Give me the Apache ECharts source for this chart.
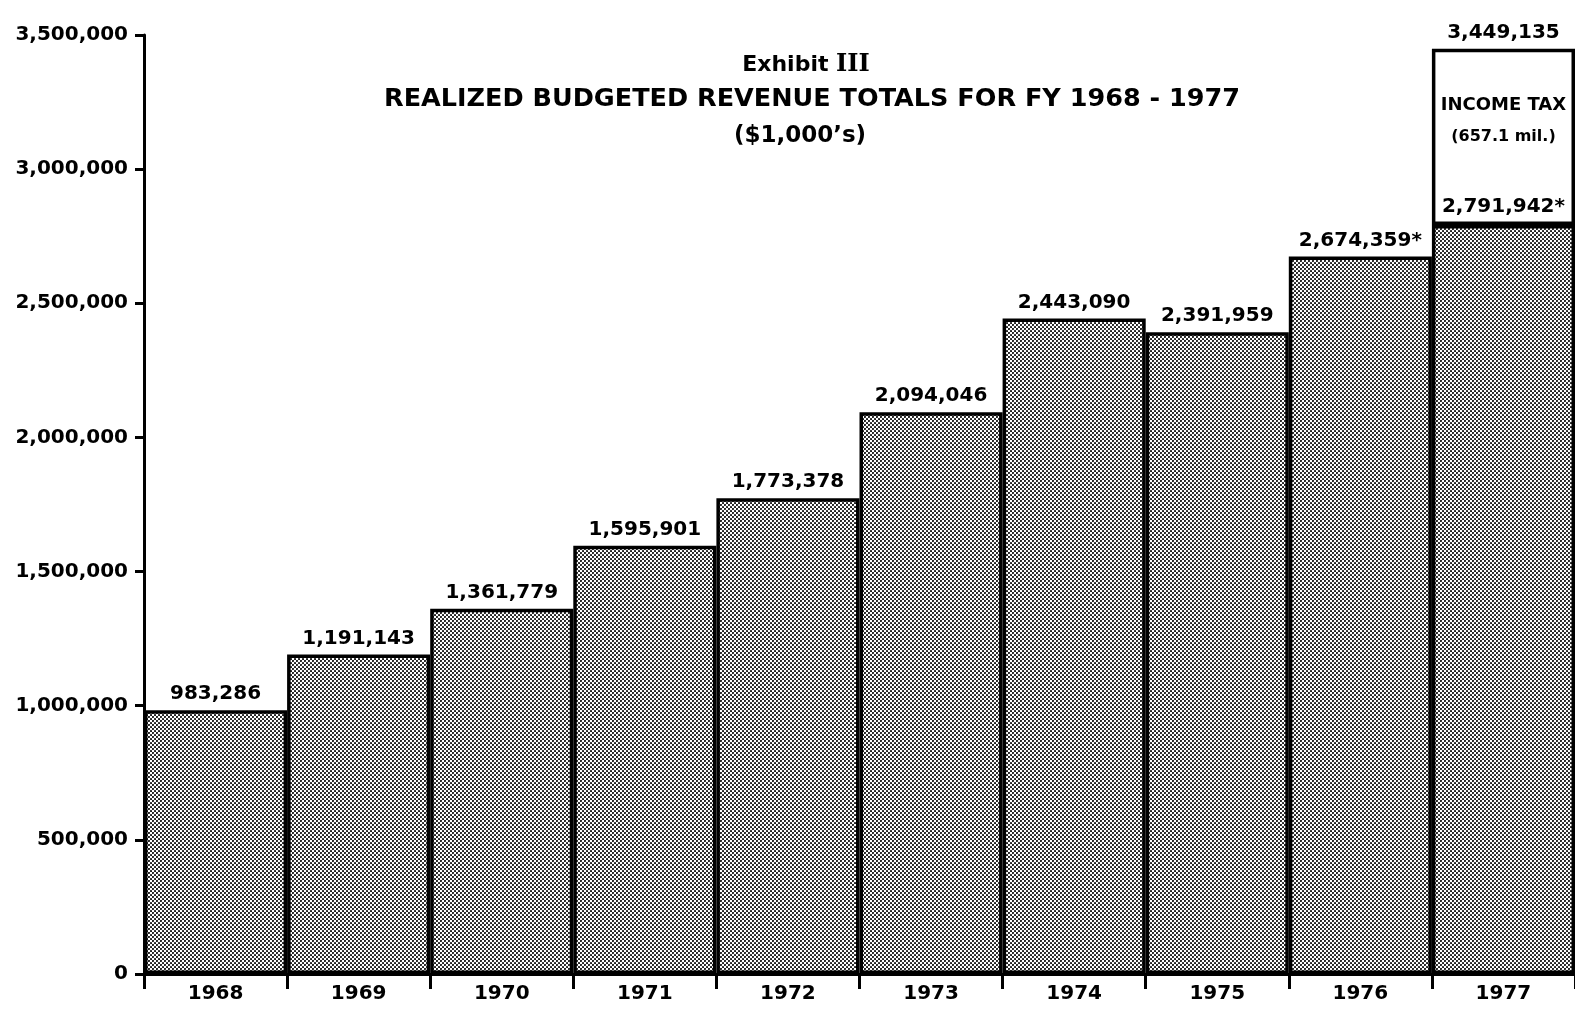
<!DOCTYPE html>
<html>
<head>
<meta charset="utf-8">
<script src="https://cdn.jsdelivr.net/npm/echarts@6/dist/echarts.min.js"></script>
<style>
  html,body{margin:0;padding:0;background:#fff;}
  #chart{width:1575px;height:1012px;}
</style>
</head>
<body>
<div id="chart"></div>
<script>
// data (thousands of dollars)
const years = ["1968","1969","1970","1971","1972","1973","1974","1975","1976","1977"];
const revenue = [983286, 1191143, 1361779, 1595901, 1773378, 2094046, 2443090, 2391959, 2674359, 2791942];
const incomeTax = [null, null, null, null, null, null, null, null, null, 657193];
const notes = ["", "", "", "", "", "", "", "", "*", "*"];
const yTicks = [0, 500000, 1000000, 1500000, 2000000, 2500000, 3000000, 3500000];

const numFont = "DejaVu Sans";
const fmt = v => v.toLocaleString("en-US");

// dotted halftone fill like the printed bars
function makeDots(){
  let c = document.createElement("canvas");
  c.width = 4; c.height = 4;
  let g = c.getContext("2d");
  g.fillStyle = "#fff";
  g.fillRect(0,0,4,4);
  g.fillStyle = "#111";
  g.beginPath(); g.arc(1,1,1.05,0,Math.PI*2); g.fill();
  g.beginPath(); g.arc(3,3,1.05,0,Math.PI*2); g.fill();
  return c;
}
const dots = makeDots();

let myChart = echarts.init(document.getElementById("chart"));

let revData = revenue.map((v,i)=>{
  let item = {value:v};
  if(incomeTax[i]){
    // label for the split bar sits inside the white box
    item.label = {
      formatter: "{i|INCOME TAX}\n{m|(657.1 mil.)}\n{g| }\n{v|" + fmt(v) + notes[i] + "}",
      rich:{
        i:{fontFamily:numFont,fontWeight:"bold",fontSize:18,lineHeight:32,color:"#000"},
        m:{fontFamily:numFont,fontWeight:"bold",fontSize:16,lineHeight:32,color:"#000"},
        g:{fontSize:10,lineHeight:42},
        v:{fontFamily:numFont,fontWeight:"bold",fontSize:20,lineHeight:24,color:"#000"}
      }
    };
  }
  return item;
});

myChart.setOption({
  animation:false,
  grid:{left:144,right:-3,top:35,bottom:38,containLabel:false},
  graphic:[
    {type:"text",x:806,y:65,style:{
      text:"{a|Exhibit }{r|III}",
      align:"center",verticalAlign:"middle",
      rich:{
        a:{fontFamily:"DejaVu Sans",fontWeight:"bold",fontSize:22,fill:"#000"},
        r:{fontFamily:"DejaVu Serif",fontWeight:"bold",fontSize:24,fill:"#000"}
      }
    }},
    {type:"text",x:812,y:99,style:{
      text:"REALIZED BUDGETED REVENUE TOTALS FOR FY 1968 - 1977",
      align:"center",verticalAlign:"middle",
      font:"bold 25.5px 'DejaVu Sans'",fill:"#000"
    }},
    {type:"text",x:800,y:136,style:{
      text:"($1,000\u2019s)",
      align:"center",verticalAlign:"middle",
      font:"bold 23px 'DejaVu Sans'",fill:"#000"
    }}
  ],
  xAxis:{
    type:"category",
    data:years,
    boundaryGap:true,
    axisLine:{lineStyle:{color:"#000",width:3}},
    axisTick:{show:true,length:15,lineStyle:{color:"#000",width:3}},
    axisLabel:{color:"#000",fontFamily:numFont,fontWeight:"bold",fontSize:20,margin:10}
  },
  yAxis:{
    type:"value",
    min:yTicks[0],
    max:yTicks[yTicks.length-1],
    interval:yTicks[1]-yTicks[0],
    splitLine:{show:false},
    axisLine:{show:true,lineStyle:{color:"#000",width:3}},
    axisTick:{show:true,length:9,lineStyle:{color:"#000",width:3}},
    axisLabel:{color:"#000",fontFamily:numFont,fontWeight:"bold",fontSize:20,margin:16,
      formatter:v=>fmt(v)}
  },
  series:[
    {
      name:"Revenue",
      type:"bar",
      stack:"total",
      barCategoryGap:0,
      data:revData,
      itemStyle:{color:{image:dots,repeat:"repeat"},borderColor:"#000",borderWidth:3.5},
      label:{
        show:true,position:"top",distance:6,color:"#000",
        fontFamily:numFont,fontWeight:"bold",fontSize:20,
        formatter:p=>fmt(p.value)+notes[p.dataIndex]
      },
      z:3
    },
    {
      name:"Income tax",
      type:"bar",
      stack:"total",
      barCategoryGap:0,
      data:incomeTax,
      itemStyle:{color:"#fff",borderColor:"#000",borderWidth:3.5},
      label:{
        show:true,position:"top",distance:6,color:"#000",
        fontFamily:numFont,fontWeight:"bold",fontSize:20,
        formatter:p=>p.value ? fmt(p.value+revenue[p.dataIndex]) : ""
      },
      z:2
    }
  ]
});
</script>
</body>
</html>
